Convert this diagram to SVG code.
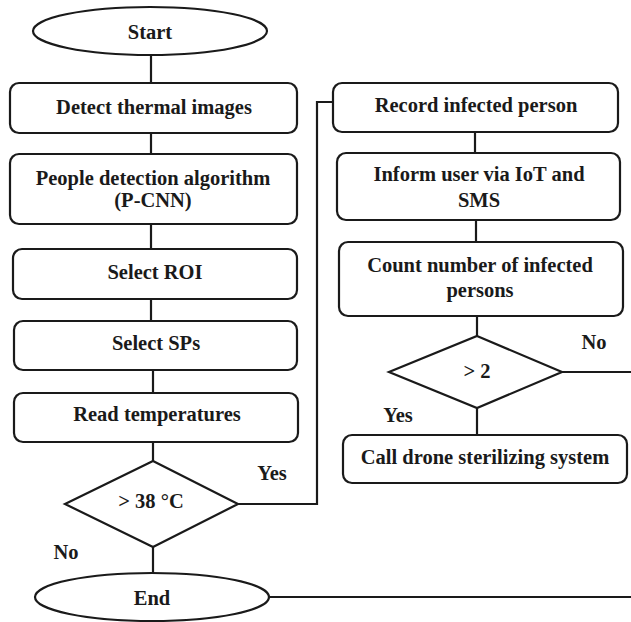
<svg xmlns="http://www.w3.org/2000/svg" width="631" height="622" viewBox="0 0 631 622">
  <style>
    .shape { fill: #ffffff; stroke: #1a1a1a; stroke-width: 2.2; }
    .wire { fill: none; stroke: #1a1a1a; stroke-width: 2.2; }
    text { font-family: "Liberation Serif", "Times New Roman", serif; font-weight: bold; font-size: 20.5px; fill: #1a1a1a; text-anchor: middle; }
  </style>
  <rect width="631" height="622" fill="#ffffff"/>

  <g id="connectors">
    <line class="wire" x1="151" y1="55" x2="151" y2="83"/>
    <line class="wire" x1="151" y1="133" x2="151" y2="154"/>
    <line class="wire" x1="151" y1="224" x2="151" y2="249"/>
    <line class="wire" x1="151" y1="299" x2="151" y2="321"/>
    <line class="wire" x1="153" y1="370" x2="153" y2="393"/>
    <line class="wire" x1="153" y1="442" x2="153" y2="461"/>
    <line class="wire" x1="153" y1="547" x2="153" y2="573"/>
    <polyline class="wire" points="238,504 317,504 317,102 333,102"/>
    <line class="wire" x1="475" y1="132" x2="475" y2="153"/>
    <line class="wire" x1="476" y1="220" x2="476" y2="242"/>
    <line class="wire" x1="477" y1="316" x2="477" y2="336"/>
    <line class="wire" x1="477" y1="408" x2="477" y2="435"/>
    <line class="wire" x1="562" y1="372" x2="631" y2="372"/>
    <line class="wire" x1="268" y1="597" x2="631" y2="597"/>
  </g>

  <g id="start">
    <ellipse class="shape" cx="150" cy="31" rx="117" ry="24"/>
    <text x="150" y="39">Start</text>
  </g>
  <g id="detect-thermal">
    <rect class="shape" x="10" y="83" width="287" height="50" rx="9"/>
    <text x="154" y="114">Detect thermal images</text>
  </g>
  <g id="people-detection">
    <rect class="shape" x="10" y="154" width="287" height="70" rx="9"/>
    <text x="153" y="185">People detection algorithm</text>
    <text x="153" y="207">(P-CNN)</text>
  </g>
  <g id="select-roi">
    <rect class="shape" x="13" y="249" width="284" height="50" rx="9"/>
    <text x="155" y="279">Select ROI</text>
  </g>
  <g id="select-sps">
    <rect class="shape" x="14" y="321" width="283" height="49" rx="9"/>
    <text x="156" y="350">Select SPs</text>
  </g>
  <g id="read-temperatures">
    <rect class="shape" x="14" y="393" width="284" height="49" rx="9"/>
    <text x="157" y="421">Read temperatures</text>
  </g>
  <g id="temp-check">
    <polygon class="shape" points="153,461 238,504 153,547 65,504"/>
    <text x="151" y="508">&gt; 38 °C</text>
  </g>
  <g id="end">
    <ellipse class="shape" cx="152" cy="597" rx="117" ry="24"/>
    <text x="152" y="605">End</text>
  </g>

  <g id="record-infected">
    <rect class="shape" x="333" y="83" width="285" height="49" rx="9"/>
    <text x="476" y="112">Record infected person</text>
  </g>
  <g id="inform-user">
    <rect class="shape" x="337" y="153" width="283" height="67" rx="9"/>
    <text x="479" y="181">Inform user via IoT and</text>
    <text x="479" y="207">SMS</text>
  </g>
  <g id="count-infected">
    <rect class="shape" x="339" y="242" width="284" height="74" rx="9"/>
    <text x="480" y="272">Count number of infected</text>
    <text x="480" y="297">persons</text>
  </g>
  <g id="count-check">
    <polygon class="shape" points="477,336 562,372 477,408 389,372"/>
    <text x="477" y="378">&gt; 2</text>
  </g>
  <g id="call-drone">
    <rect class="shape" x="343" y="435" width="284" height="48" rx="9"/>
    <text x="485" y="464">Call drone sterilizing system</text>
  </g>

  <g id="labels">
    <text x="272" y="480">Yes</text>
    <text x="66" y="559">No</text>
    <text x="594" y="349">No</text>
    <text x="398" y="422">Yes</text>
  </g>
</svg>
